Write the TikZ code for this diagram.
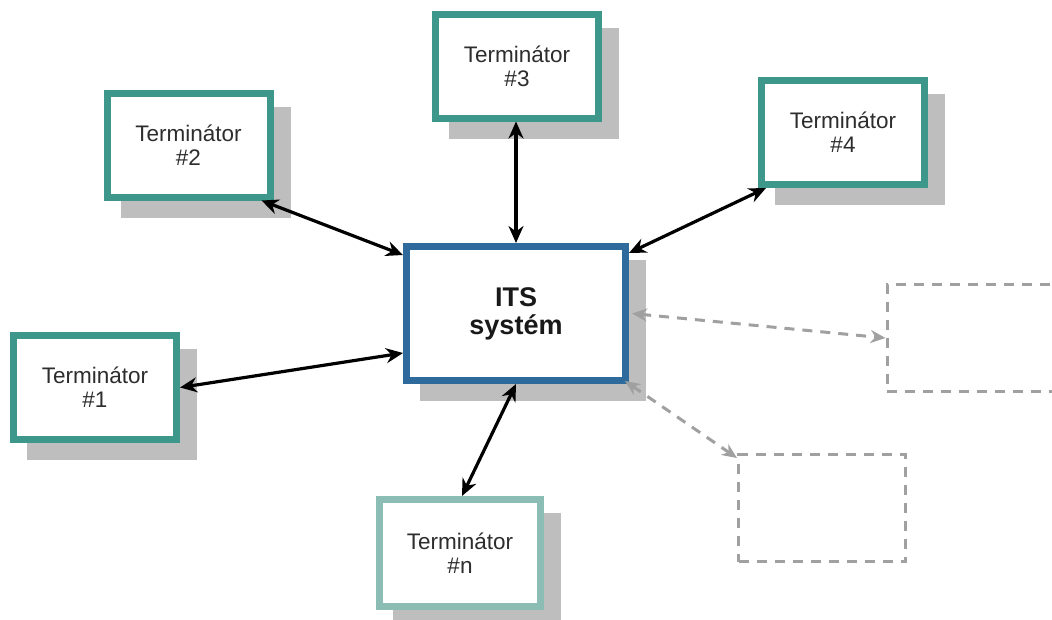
\documentclass[tikz,border=0pt]{standalone}
\usepackage{fontspec}
\setmainfont{Liberation Sans}
\usetikzlibrary{arrows.meta,backgrounds}
\definecolor{tealb}{RGB}{61,151,138}
\definecolor{teall}{RGB}{140,189,181}
\definecolor{itsblue}{RGB}{47,106,156}
\definecolor{shadowg}{RGB}{190,190,190}
\definecolor{dashg}{RGB}{160,160,160}
\definecolor{txtg}{RGB}{45,45,45}
\begin{document}
\begin{tikzpicture}[x=1pt,y=-1pt,
  term/.style={draw=tealb, line width=7pt, fill=white, minimum width=163pt,
    minimum height=104pt, inner sep=0pt, outer sep=3.5pt, align=center,
    font=\fontsize{22.5}{24}\selectfont, text=txtg},
  itsbox/.style={draw=itsblue, line width=7pt, fill=white, minimum width=219pt,
    minimum height=134pt, inner sep=0pt, outer sep=3.5pt, align=center,
    font=\fontsize{27}{28}\selectfont\bfseries, text=black!90},
  ghost/.style={draw=dashg, line width=3pt, dash pattern=on 10pt off 8pt,
    minimum width=167pt, minimum height=107pt, inner sep=0pt, outer sep=1.5pt},
  conn/.style={{Stealth[length=17pt,width=15pt]}-{Stealth[length=17pt,width=15pt]},
    line width=3.2pt, black},
  dconn/.style={{Stealth[length=15pt,width=13pt]}-{Stealth[length=15pt,width=13pt]},
    line width=3pt, dashg, dash pattern=on 10pt off 8pt},
  shade/.style={fill=shadowg}
]
\useasboundingbox (0,0) rectangle (1052,619);

\node[itsbox] (its) at (516,313.5) {ITS\\systém};
\node[term] (t1) at (95,387.5) {Terminátor\\\#1};
\node[term] (t2) at (188.5,145) {Terminátor\\\#2};
\node[term] (t3) at (517,66) {Terminátor\\\#3};
\node[term] (t4) at (843,132.5) {Terminátor\\\#4};
\node[term, draw=teall, minimum width=161pt, minimum height=107pt] (tn) at (460,553) {Terminátor\\\#n};

\begin{scope}
  \clip (0,0) rectangle (1052,619);
  \node[ghost, minimum width=190pt] (ga) at (982,338) {};
\end{scope}
\node[ghost] (gb) at (822,508) {};

\begin{scope}[on background layer]
  \foreach \n in {its,t1,t2,t3,t4,tn}
    \fill[shade] ([shift={(17pt,-17pt)}]\n.south west) rectangle ([shift={(17pt,-17pt)}]\n.north east);
\end{scope}

\draw[conn] ([xshift=-12pt]t2.south east) -- ([yshift=-12pt]its.north west);
\draw[conn] (t3.south -| its.north) -- (its.north);
\draw[conn] ([xshift=8pt]t4.south west) -- ([yshift=-10pt]its.north east);
\draw[conn] (t1.east) -- ([yshift=31pt]its.south west);
\draw[conn] ([xshift=2pt]tn.north) -- (its.south);

\draw[dconn] ([xshift=3pt]its.east) -- (ga.west);
\draw[dconn] ([shift={(-4pt,3pt)}]its.south east) -- ([yshift=-5pt]gb.north west);
\end{tikzpicture}
\end{document}
